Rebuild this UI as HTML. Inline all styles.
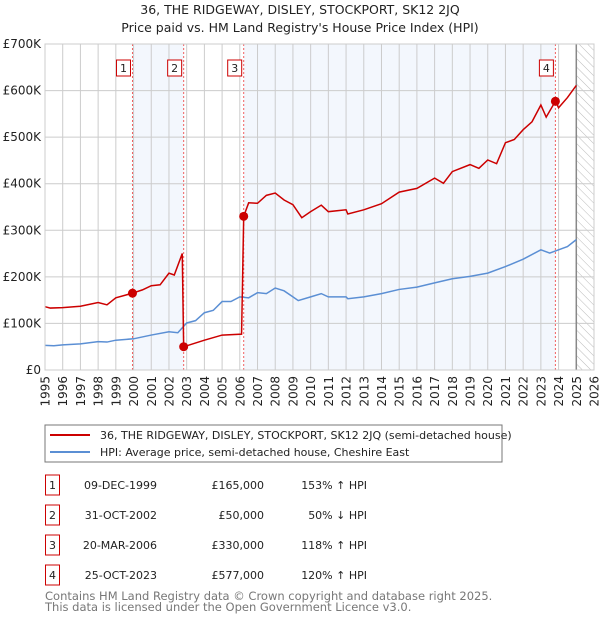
<!DOCTYPE html>
<html><head><meta charset="utf-8"><style>
body{margin:0;background:#fff;width:600px;height:620px;overflow:hidden;font-family:"DejaVu Sans","Liberation Sans",sans-serif}
</style></head><body>
<svg id="c" width="600" height="620" xmlns="http://www.w3.org/2000/svg" font-family="DejaVu Sans, Liberation Sans, sans-serif">
<defs><pattern id="hatch" width="6" height="6" patternUnits="userSpaceOnUse" patternTransform="rotate(-45)"><line x1="0" y1="0" x2="0" y2="6" stroke="#bbb" stroke-width="1"/></pattern></defs>
<text x="300" y="14" text-anchor="middle" font-size="12.5" fill="#222">36, THE RIDGEWAY, DISLEY, STOCKPORT, SK12 2JQ</text>
<text x="300" y="32" text-anchor="middle" font-size="12.5" fill="#222">Price paid vs. HM Land Registry's House Price Index (HPI)</text>
<g id="plot"></g>
<rect x="45" y="425" width="457" height="37" fill="#fff" stroke="#777"/>
<line x1="50" y1="435" x2="90" y2="435" stroke="#cc0000" stroke-width="2"/>
<text x="100" y="439" font-size="11" fill="#222">36, THE RIDGEWAY, DISLEY, STOCKPORT, SK12 2JQ (semi-detached house)</text>
<line x1="50" y1="452" x2="90" y2="452" stroke="#5b8fd4" stroke-width="2"/>
<text x="100" y="456" font-size="11" fill="#222">HPI: Average price, semi-detached house, Cheshire East</text>
<g id="table" font-size="11" fill="#222"></g>
<text x="45" y="600" font-size="11.5" fill="#777">Contains HM Land Registry data © Crown copyright and database right 2025.</text>
<text x="45" y="611" font-size="11.5" fill="#777">This data is licensed under the Open Government Licence v3.0.</text>
</svg>
<script>
const hpiYears=[1995,1995.5,1996,1997,1998,1998.5,1999,2000,2001,2002,2002.5,2003,2003.5,2004,2004.5,2005,2005.5,2006,2006.5,2007,2007.5,2008,2008.5,2009,2009.3,2010,2010.6,2011,2012,2012.1,2013,2014,2015,2016,2017,2018,2019,2020,2021,2022,2023,2023.5,2024,2024.5,2025];
const hpiValues=[53,52,54,56,61,60,64,67,75,82,80,101,106,123,128,147,147,157,155,166,164,176,170,157,149,157,164,157,157,153,157,164,173,178,187,196,201,208,222,238,258,251,258,265,280];
const priceYears=[1995,1995.3,1996,1997,1998,1998.5,1999,1999.94,2000.5,2001,2001.5,2002,2002.3,2002.75,2002.83,2003,2004,2005,2006.1,2006.22,2006.5,2007,2007.5,2008,2008.5,2009,2009.5,2010,2010.6,2011,2012,2012.1,2013,2014,2015,2016,2017,2017.5,2018,2019,2019.5,2020,2020.5,2021,2021.5,2022,2022.5,2023,2023.3,2023.82,2024,2024.5,2025];
const priceValues=[136,133,134,137,145,140,155,165,172,181,183,208,204,250,50,52,64,75,77,330,359,358,375,380,365,355,327,340,354,340,344,335,344,357,382,390,412,401,426,441,433,451,443,488,495,516,533,569,543,577,563,585,611];
const saleLabels=["1","2","3","4"];
const saleYears=[1999.94,2002.83,2006.22,2023.82];
const salePrices=[165,50,330,577];
const saleDates=["09-DEC-1999","31-OCT-2002","20-MAR-2006","25-OCT-2023"];
const salePriceText=["£165,000","£50,000","£330,000","£577,000"];
const saleHpiText=["153% ↑ HPI","50% ↓ HPI","118% ↑ HPI","120% ↑ HPI"];
const yTicks=[0,100,200,300,400,500,600,700];
const yTickLabels=["£0","£100K","£200K","£300K","£400K","£500K","£600K","£700K"];
const xTicks=[1995,1996,1997,1998,1999,2000,2001,2002,2003,2004,2005,2006,2007,2008,2009,2010,2011,2012,2013,2014,2015,2016,2017,2018,2019,2020,2021,2022,2023,2024,2025,2026];

const NS="http://www.w3.org/2000/svg";
const L=45,R=594,T=44,B=370;
const x=v=>L+(v-1995)*(R-L)/31;
const y=v=>B-v*(B-T)/700;
const g=document.getElementById('plot');
function mk(tag,attrs,parent){const e=document.createElementNS(NS,tag);for(const k in attrs)e.setAttribute(k,attrs[k]);(parent||g).appendChild(e);return e;}
let e;
e=mk('rect',{x:L,y:T,width:R-L,height:B-T,fill:'#fff'});


e=mk('rect',{x:x(saleYears[0]),y:T,width:x(saleYears[1])-x(saleYears[0]),height:B-T,fill:'#eef3fc',opacity:0.7});


e=mk('rect',{x:x(saleYears[2]),y:T,width:x(saleYears[3])-x(saleYears[2]),height:B-T,fill:'#eef3fc',opacity:0.7});


e=mk('rect',{x:x(2025),y:T,width:R-x(2025),height:B-T,fill:'url(#hatch)'});


xTicks.forEach((t,i)=>{
  e=mk('line',{x1:x(t),x2:x(t),y1:T,y2:B,stroke:'#ccc','stroke-width':1});
  
  
  e=mk('text',{transform:'translate('+(x(t)+4.5)+',376) rotate(-90)','text-anchor':'end','font-size':12,fill:'#222'});
  e.textContent=t;
  
  
});
yTicks.forEach((t,i)=>{
  e=mk('line',{x1:L,x2:R,y1:y(t),y2:y(t),stroke:'#ccc','stroke-width':1});
  
  
  e=mk('text',{x:L-4,y:y(t)+4,'text-anchor':'end','font-size':12,fill:'#222'});
  e.textContent=yTickLabels[i];
  
  
});
e=mk('line',{x1:x(2025),x2:x(2025),y1:T,y2:B,stroke:'#888','stroke-width':1.5});


saleYears.forEach((s,i)=>{
  e=mk('line',{x1:x(s),x2:x(s),y1:T,y2:B,stroke:'#f06060','stroke-width':1,'stroke-dasharray':'2,2'});
  
  
});
e=mk('polyline',{points:hpiYears.map((t,i)=>x(t)+','+y(hpiValues[i])).join(' '),fill:'none',stroke:'#5b8fd4','stroke-width':1.5});


e=mk('polyline',{points:priceYears.map((t,i)=>x(t)+','+y(priceValues[i])).join(' '),fill:'none',stroke:'#cc0000','stroke-width':1.5});


saleYears.forEach((s,i)=>{
  e=mk('circle',{cx:x(s),cy:y(salePrices[i]),r:4.5,fill:'#cc0000'});
  
  
  e=mk('rect',{x:x(s)-16,y:60,width:14,height:16,fill:'#fff',stroke:'#cc0000'});
  
  
  e=mk('text',{x:x(s)-9,y:72,'text-anchor':'middle','font-size':11,fill:'#222'});
  e.textContent=saleLabels[i];
  
  
});
e=mk('rect',{x:L,y:T,width:R-L,height:B-T,fill:'none',stroke:'#ccc'});


const tb=document.getElementById('table');
saleLabels.forEach((s,i)=>{
  const yy=486+i*30;
  e=mk('rect',{x:45.5,y:yy-11,width:14,height:20,fill:'#fff',stroke:'#cc0000'},tb);
  
  
  e=mk('text',{x:52.5,y:yy+3,'text-anchor':'middle'},tb);e.textContent=s;
  
  
  e=mk('text',{x:157,y:yy+3,'text-anchor':'end'},tb);e.textContent=saleDates[i];
  
  
  e=mk('text',{x:264,y:yy+3,'text-anchor':'end'},tb);e.textContent=salePriceText[i];
  
  
  e=mk('text',{x:367,y:yy+3,'text-anchor':'end'},tb);e.textContent=saleHpiText[i];
  
  
});
</script>
</body></html>
